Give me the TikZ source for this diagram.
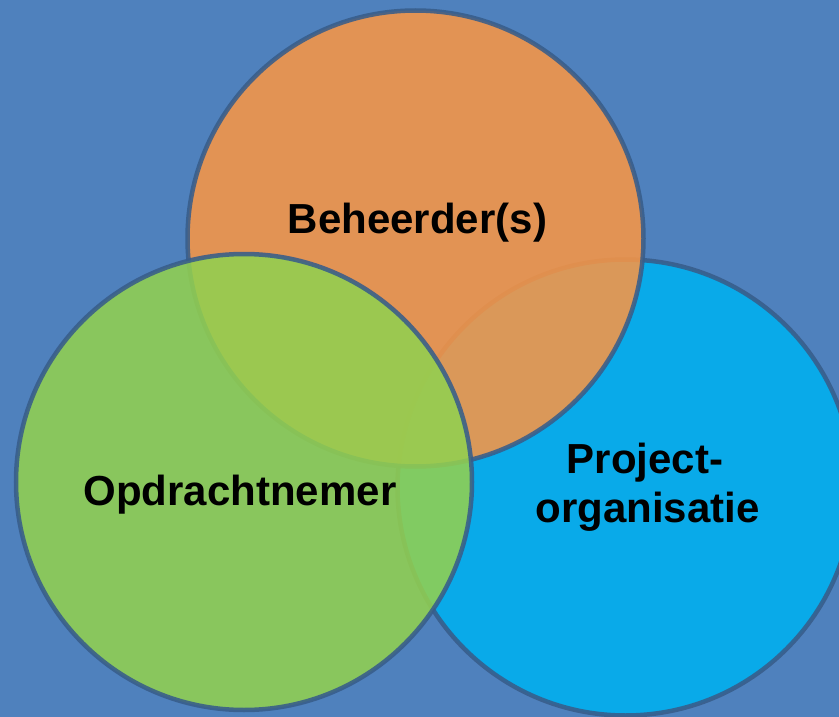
\documentclass[tikz,border=0pt]{standalone}
\usepackage{fontspec}
\setmainfont{Liberation Sans}
\definecolor{bgblue}{HTML}{4F81BD}
\definecolor{edgeblue}{HTML}{385D8A}
\definecolor{vorange}{HTML}{F79646}
\definecolor{vgreen}{HTML}{92D050}
\definecolor{vblue}{HTML}{00B0F0}
\tikzset{
  venn/.style={circle, minimum size=456pt, inner sep=0pt, draw=edgeblue, line width=4.5pt, opacity=0.88},
  lbl/.style={font=\fontsize{42}{50}\selectfont\bfseries, text=black, anchor=base, inner sep=0pt, align=center}
}
\begin{document}
\begin{tikzpicture}[x=1pt,y=-1pt]
\fill[bgblue] (0,0) rectangle (839,717);
\useasboundingbox (0,0) rectangle (839,717);
\node[venn, fill=vblue] (proj) at (625.5,487.5) {};
\node[venn, fill=vorange] (beh) at (415.5,238.5) {};
\node[venn, fill=vgreen] (opd) at (244,482) {};
\node[lbl] (tbeh) at (417.5,233) {Beheerder(s)};
\node[lbl] (topd) at (240,505) {Opdrachtnemer};
\node[lbl] (tproj1) at (645,473) {Project-};
\node[lbl] (tproj2) at (647.5,522) {organisatie};
\end{tikzpicture}
\end{document}
